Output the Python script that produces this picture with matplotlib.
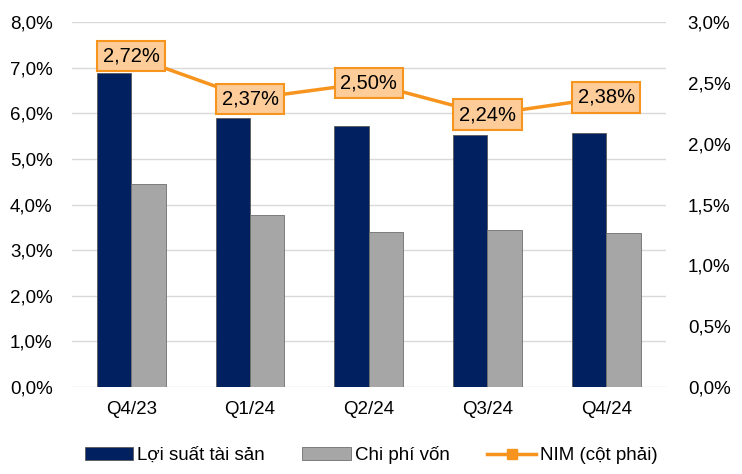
import matplotlib.pyplot as plt
import numpy as np
from matplotlib.ticker import FuncFormatter

plt.rcParams['font.family'] = ['Liberation Sans', 'DejaVu Sans']

quarters = ['Q4/23', 'Q1/24', 'Q2/24', 'Q3/24', 'Q4/24']
loi_suat = [6.88, 5.90, 5.72, 5.53, 5.56]   # Lợi suất tài sản, %
chi_phi = [4.45, 3.77, 3.40, 3.44, 3.38]    # Chi phí vốn, %
nim = [2.72, 2.37, 2.50, 2.24, 2.38]        # NIM, %

def pct(v, pos=None):
    return f'{v:.1f}%'.replace('.', ',')

fig = plt.figure(figsize=(7.42, 4.74), dpi=100)
ax = fig.add_axes([0.097, 0.1835, 0.8, 0.77])
ax2 = ax.twinx()

x = np.arange(len(quarters))
w = 0.29
ax.bar(x - w / 2, loi_suat, w, color='#002060', edgecolor='#5a5a5a', linewidth=0.6,
       label='Lợi suất tài sản', zorder=3)
ax.bar(x + w / 2, chi_phi, w, color='#a6a6a6', edgecolor='#6e6e6e', linewidth=0.6,
       label='Chi phí vốn', zorder=3)

ax.set_ylim(0, 8)
ax.set_yticks(np.arange(0, 8.01, 1))
ax.yaxis.set_major_formatter(FuncFormatter(pct))
ax.set_xlim(-0.5, len(quarters) - 0.5)
ax.set_xticks(x)
ax.set_xticklabels(quarters)
ax.grid(axis='y', color='#d9d9d9', linewidth=1, zorder=0)
ax.set_axisbelow(True)

ax2.plot(x, nim, color='#f7941d', linewidth=2.5, marker='s', markersize=7,
         label='NIM (cột phải)', zorder=4)
for xi, v in zip(x, nim):
    ax2.text(xi, v, f'{v:.2f}%'.replace('.', ','), ha='center', va='center',
             fontsize=14.5, color='black', zorder=5,
             bbox=dict(boxstyle='square,pad=0.28', facecolor='#fdcc99',
                       edgecolor='#f7941d', linewidth=1.5))
ax2.set_ylim(0, 3)
ax2.set_yticks(np.arange(0, 3.01, 0.5))
ax2.yaxis.set_major_formatter(FuncFormatter(pct))

for a in (ax, ax2):
    for s in a.spines.values():
        s.set_visible(False)
    a.tick_params(length=0, labelsize=13.5, colors='black')
ax.tick_params(axis='y', pad=14)
ax.tick_params(axis='x', pad=10)
ax2.tick_params(axis='y', pad=16)

h1, l1 = ax.get_legend_handles_labels()
h2, l2 = ax2.get_legend_handles_labels()
fig.legend(h1 + h2, l1 + l2, loc='lower center', bbox_to_anchor=(0.5, -0.015),
           ncol=3, frameon=False, fontsize=13.5, handlelength=2.6,
           handletextpad=0.2, columnspacing=2.0)

fig.savefig('out.png', dpi=100)
